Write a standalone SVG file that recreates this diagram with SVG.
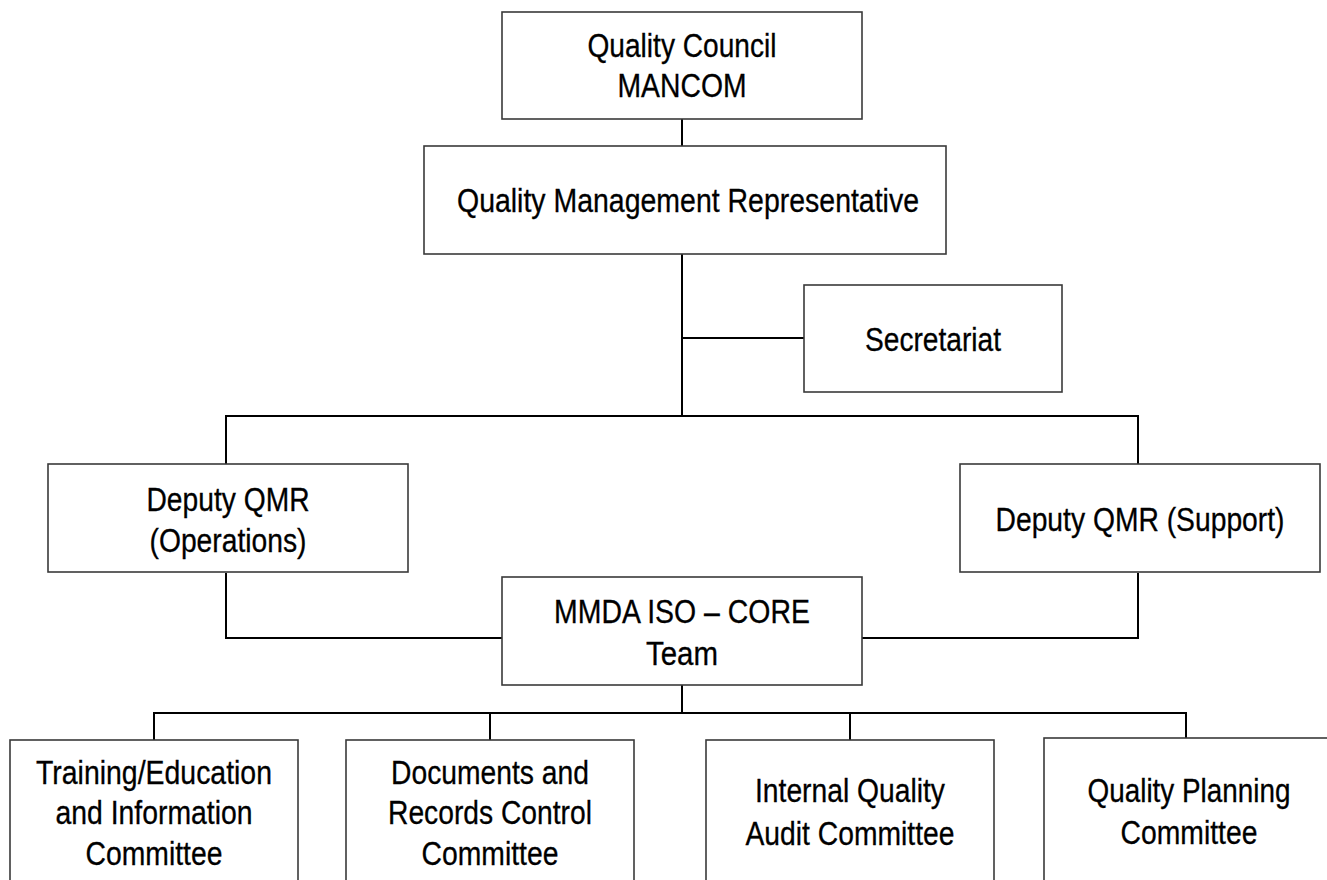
<svg xmlns="http://www.w3.org/2000/svg" width="1327" height="880" viewBox="0 0 1327 880">
<style>
.box{fill:#fff;stroke:#3a3a3a;stroke-width:1.6}
.c{fill:none;stroke:#000;stroke-width:2}
text{font-family:"Liberation Sans Narrow","Liberation Sans",Arial,sans-serif;font-size:33px;fill:#000;stroke:#000;stroke-width:0.3;text-anchor:middle}
</style>
<rect width="1327" height="880" fill="#fff"/>
<g id="connectors">
<path class="c" d="M682,119V146"/>
<path class="c" d="M682,254V416"/>
<path class="c" d="M682,338H804"/>
<path class="c" d="M226,464V416H1138V464"/>
<path class="c" d="M226,573V638H502"/>
<path class="c" d="M1138,573V638H862"/>
<path class="c" d="M682,685V713"/>
<path class="c" d="M154,740V713H1186V738"/>
<path class="c" d="M490,713V740"/>
<path class="c" d="M850,713V740"/>
</g>
<g id="quality-council">
<rect class="box" x="502" y="12" width="360" height="107"/>
<text x="682" y="57" textLength="189" lengthAdjust="spacingAndGlyphs">Quality Council</text>
<text x="682" y="97" textLength="129" lengthAdjust="spacingAndGlyphs">MANCOM</text>
</g>
<g id="qmr">
<rect class="box" x="424" y="146" width="522" height="108"/>
<text x="688" y="212" textLength="462" lengthAdjust="spacingAndGlyphs">Quality Management Representative</text>
</g>
<g id="secretariat">
<rect class="box" x="804" y="285" width="258" height="107"/>
<text x="933" y="351" textLength="136" lengthAdjust="spacingAndGlyphs">Secretariat</text>
</g>
<g id="deputy-ops">
<rect class="box" x="48" y="464" width="360" height="108"/>
<text x="228" y="511" textLength="163" lengthAdjust="spacingAndGlyphs">Deputy QMR</text>
<text x="228" y="552" textLength="157" lengthAdjust="spacingAndGlyphs">(Operations)</text>
</g>
<g id="deputy-support">
<rect class="box" x="960" y="464" width="360" height="108"/>
<text x="1140" y="531" textLength="289" lengthAdjust="spacingAndGlyphs">Deputy QMR (Support)</text>
</g>
<g id="core-team">
<rect class="box" x="502" y="577" width="360" height="108"/>
<text x="682" y="623" textLength="256" lengthAdjust="spacingAndGlyphs">MMDA ISO – CORE</text>
<text x="682" y="665" textLength="72" lengthAdjust="spacingAndGlyphs">Team</text>
</g>
<g id="training">
<rect class="box" x="10" y="740" width="288" height="160"/>
<text x="154" y="784" textLength="236" lengthAdjust="spacingAndGlyphs">Training/Education</text>
<text x="154" y="824" textLength="197" lengthAdjust="spacingAndGlyphs">and Information</text>
<text x="154" y="865" textLength="137" lengthAdjust="spacingAndGlyphs">Committee</text>
</g>
<g id="documents">
<rect class="box" x="346" y="740" width="288" height="160"/>
<text x="490" y="784" textLength="198" lengthAdjust="spacingAndGlyphs">Documents and</text>
<text x="490" y="824" textLength="204" lengthAdjust="spacingAndGlyphs">Records Control</text>
<text x="490" y="865" textLength="137" lengthAdjust="spacingAndGlyphs">Committee</text>
</g>
<g id="audit">
<rect class="box" x="706" y="740" width="288" height="160"/>
<text x="850" y="802" textLength="190" lengthAdjust="spacingAndGlyphs">Internal Quality</text>
<text x="850" y="845" textLength="209" lengthAdjust="spacingAndGlyphs">Audit Committee</text>
</g>
<g id="planning">
<rect class="box" x="1044" y="738" width="288" height="160"/>
<text x="1189" y="802" textLength="203" lengthAdjust="spacingAndGlyphs">Quality Planning</text>
<text x="1189" y="844" textLength="137" lengthAdjust="spacingAndGlyphs">Committee</text>
</g>
</svg>
